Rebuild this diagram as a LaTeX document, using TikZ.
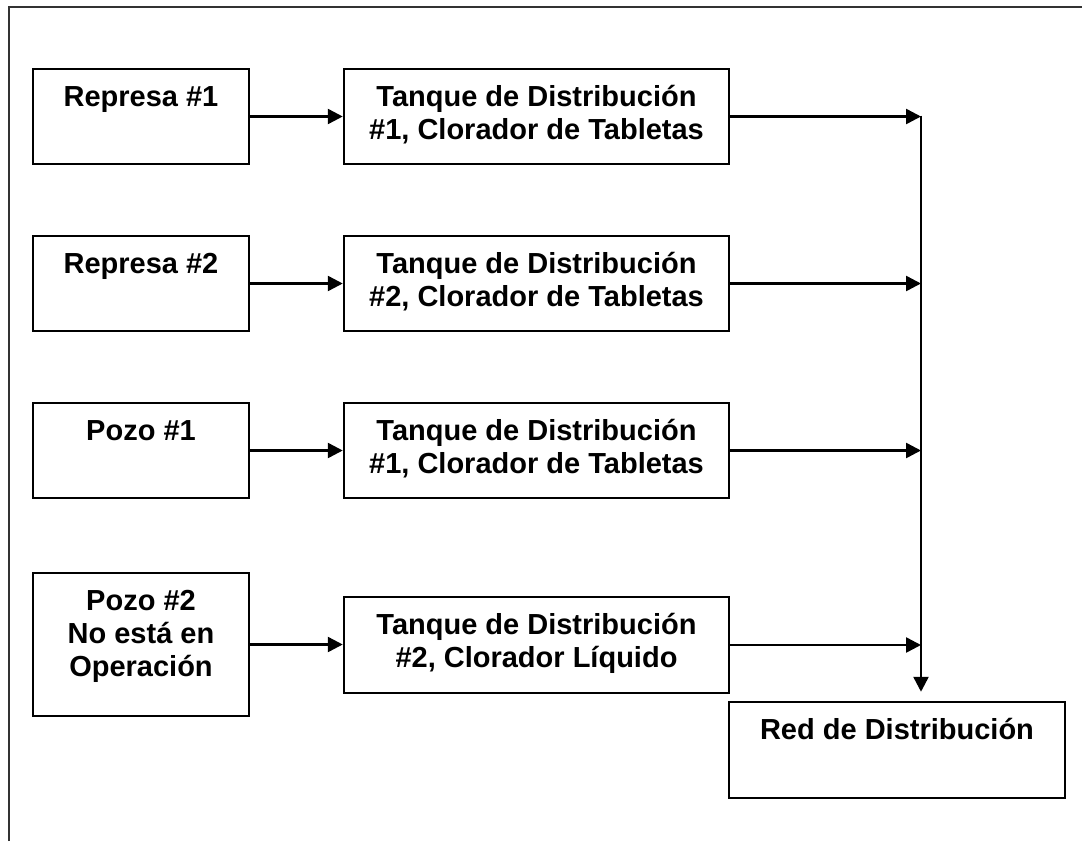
\documentclass[tikz,border=0pt]{standalone}
\usepackage{fontspec}
\setmainfont{Liberation Sans}
\usetikzlibrary{arrows.meta}
\newcommand\boxtext[1]{\parbox[t]{420pt}{\centering #1}}
\begin{document}
\begin{tikzpicture}[x=1pt,y=-1pt,
  blk/.style={draw, rectangle, line width=2.5pt, inner sep=0pt},
  lbl/.style={anchor=base, inner sep=0pt, font=\fontsize{29}{33}\selectfont\bfseries},
  arr/.style={-{Triangle[length=15pt,width=15pt]}, line width=2.5pt},
  frame/.style={line width=2.5pt, black!80}]
\useasboundingbox (0,0) rectangle (1082,841);
\fill[white] (0,0) rectangle (1082,841);
\draw[frame] (9,841) -- (9,7) -- (1082,7);

% left column
\node[blk, minimum width=216pt, minimum height=95pt] (a1) at (141,116.5) {};
\node[blk, minimum width=216pt, minimum height=95pt] (a2) at (141,283.5) {};
\node[blk, minimum width=216pt, minimum height=95pt] (a3) at (141,450.5) {};
\node[blk, minimum width=216pt, minimum height=143pt] (a4) at (141,644.5) {};
% middle column
\node[blk, minimum width=385pt, minimum height=95pt] (b1) at (536.5,116.5) {};
\node[blk, minimum width=385pt, minimum height=95pt] (b2) at (536.5,283.5) {};
\node[blk, minimum width=385pt, minimum height=95pt] (b3) at (536.5,450.5) {};
\node[blk, minimum width=385pt, minimum height=96pt] (b4) at (536.5,645) {};
% output
\node[blk, minimum width=336pt, minimum height=96pt] (red) at (897,750) {};

% texts
\node[lbl] (a1t) at ([yshift=-39pt]a1.north) {\boxtext{Represa \#1}};
\node[lbl] (a2t) at ([yshift=-39pt]a2.north) {\boxtext{Represa \#2}};
\node[lbl] (a3t) at ([yshift=-39pt]a3.north) {\boxtext{Pozo \#1}};
\node[lbl] (a4t) at ([yshift=-39pt]a4.north) {\boxtext{Pozo \#2\\No está en\\Operación}};
\node[lbl] (b1t) at ([yshift=-39pt]b1.north) {\boxtext{Tanque de Distribución\\\#1, Clorador de Tabletas}};
\node[lbl] (b2t) at ([yshift=-39pt]b2.north) {\boxtext{Tanque de Distribución\\\#2, Clorador de Tabletas}};
\node[lbl] (b3t) at ([yshift=-39pt]b3.north) {\boxtext{Tanque de Distribución\\\#1, Clorador de Tabletas}};
\node[lbl] (b4t) at ([yshift=-39pt]b4.north) {\boxtext{Tanque de Distribución\\\#2, Clorador Líquido}};
\node[lbl] (redt) at ([yshift=-39pt]red.north) {\boxtext{Red de Distribución}};

% connectors
\coordinate (sp) at (921,0);
\foreach \i in {1,2,3,4} {
  \draw[arr] (a\i.east) -- (a\i.east -| b\i.west);
  \draw[arr] (b\i.east) -- (b\i.east -| sp);
}
\draw[arr, shorten >=9pt] ([yshift=1pt]b1.east -| sp) -- (red.north -| sp);
\end{tikzpicture}
\end{document}
